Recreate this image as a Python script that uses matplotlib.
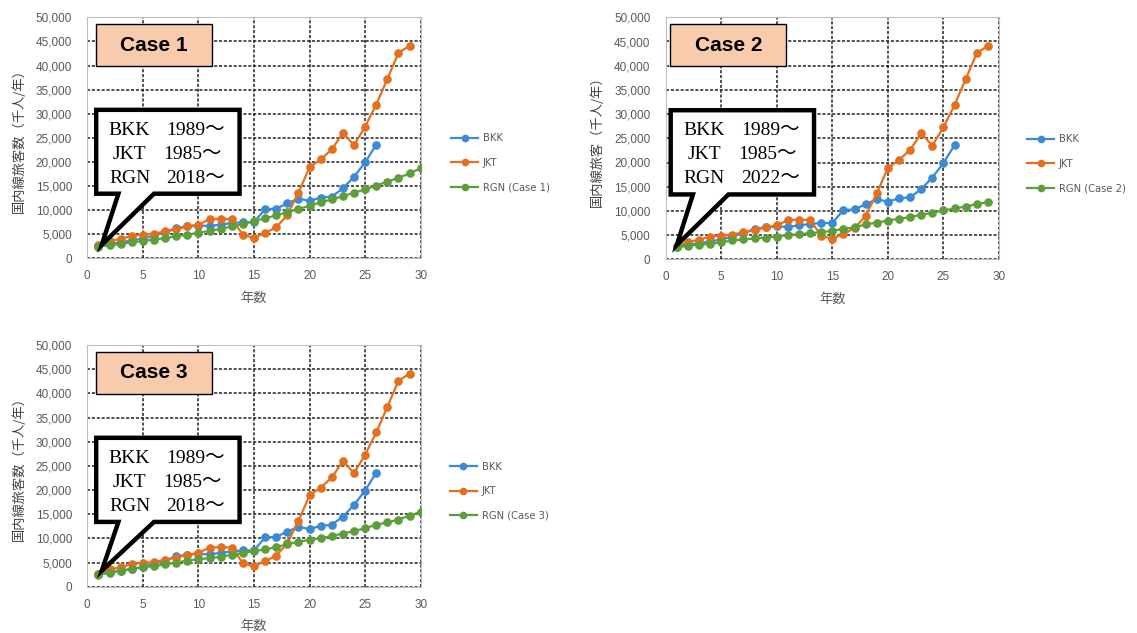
import matplotlib
matplotlib.use("Agg")
import matplotlib.pyplot as plt
from matplotlib.patches import Polygon, Rectangle
from matplotlib.ticker import FuncFormatter, MultipleLocator

# Domestic passengers (thousand persons / year) by elapsed year
bkk = [2600, 3000, 3300, 3700, 4100, 4700, 5400, 6300, 6600, 6800, 6700, 7000, 7300,
       7500, 7500, 10200, 10300, 11400, 12400, 11900, 12600, 12800, 14500, 16900,
       19900, 23600]
jkt = [2700, 3600, 4000, 4700, 4900, 5100, 5600, 6000, 6600, 7000, 8100, 8200, 8100,
       4900, 4200, 5300, 6400, 9000, 13600, 18900, 20500, 22600, 26000, 23500, 27300,
       31900, 37200, 42600, 44100]
rgn_case1 = [2400, 2700, 3000, 3300, 3600, 3900, 4200, 4600, 4900, 5300, 5700, 6100,
             6600, 7100, 7700, 8300, 8900, 9600, 10200, 10900, 11600, 12200, 12900,
             13600, 14300, 15100, 15900, 16700, 17600, 18700]
rgn_case2 = [2500, 2800, 3000, 3200, 3500, 3900, 4100, 4300, 4500, 4700, 5000, 5200,
             5400, 5600, 5900, 6300, 6600, 7200, 7600, 8000, 8400, 8700, 9200, 9600,
             10100, 10500, 10900, 11400, 11800]
rgn_case3 = [2400, 2900, 3300, 3600, 4000, 4300, 4600, 5000, 5400, 5700, 5900, 6200,
             6600, 7000, 7400, 7700, 8200, 8800, 9300, 9700, 10000, 10500, 11000, 11500,
             12100, 12800, 13300, 13900, 14700, 15500]

case_titles = ["Case 1", "Case 2", "Case 3"]
rgn_labels = ["RGN (Case 1)", "RGN (Case 2)", "RGN (Case 3)"]
rgn_series = [rgn_case1, rgn_case2, rgn_case3]
start_years = [("BKK", "1989～"), ("JKT", "1985～")]
rgn_start = ["2018～", "2022～", "2018～"]
ylabels = ["国内線旅客数（千人/年）", "国内線旅客（千人/年）", "国内線旅客数（千人/年）"]
xlabel = "年数"

C_BKK = "#3A8AD6"
C_JKT = "#E4701E"
C_RGN = "#5E9E3A"
GRAY = "#595959"

W, H = 1137, 633
fig = plt.figure(figsize=(W / 100, H / 100), dpi=100)
fig.patch.set_facecolor("white")

# axes rectangles in pixels: left, top, right, bottom
panels = [(87.3, 17.3, 420.7, 258.3), (665.7, 17.3, 999.0, 259.3), (87.3, 345.0, 420.7, 586.7)]
legend_pos = [(451, 162.5), (1027, 163.5), (450, 491)]
# horizontal shift of the annotation boxes (data units) and bubble tip per panel
box_dx = [0.0, -0.35, 0.0]
tips = [(1.3, 2800), (1.0, 2950), (1.3, 3300)]

jp = ["Noto Sans CJK JP", "DejaVu Sans"]
serif = ["Liberation Serif", "Noto Sans CJK JP"]

for i, (l, t, r, b) in enumerate(panels):
    ax = fig.add_axes([l / W, 1 - b / H, (r - l) / W, (b - t) / H])
    x_b = list(range(1, len(bkk) + 1))
    x_j = list(range(1, len(jkt) + 1))
    x_r = list(range(1, len(rgn_series[i]) + 1))
    ms, lw = 5.2, 1.6
    h1, = ax.plot(x_b, bkk, color=C_BKK, marker="o", ms=ms, lw=lw, label="BKK", zorder=3)
    h2, = ax.plot(x_j, jkt, color=C_JKT, marker="o", ms=ms, lw=lw, label="JKT", zorder=4)
    h3, = ax.plot(x_r, rgn_series[i], color=C_RGN, marker="o", ms=ms, lw=lw,
                  label=rgn_labels[i], zorder=5)

    ax.set_xlim(0, 30)
    ax.set_ylim(0, 50000)
    ax.xaxis.set_major_locator(MultipleLocator(5))
    ax.yaxis.set_major_locator(MultipleLocator(5000))
    ax.yaxis.set_major_formatter(FuncFormatter(lambda v, p: f"{int(v):,}"))
    ax.grid(True, color="#222222", linestyle=(0, (2.0, 1.2)), linewidth=1.1, zorder=1)
    ax.set_axisbelow(True)
    for s in ax.spines.values():
        s.set_color("#BFBFBF")
        s.set_linewidth(0.8)
    ax.tick_params(axis="x", length=0, labelsize=8.5, labelcolor=GRAY, pad=8.5)
    ax.tick_params(axis="y", length=0, labelsize=8.5, labelcolor=GRAY, pad=11)
    for lab in ax.get_xticklabels() + ax.get_yticklabels():
        lab.set_fontfamily("Liberation Sans")
    ax.set_ylabel(ylabels[i], fontsize=9.5, color="#404040", family=jp, labelpad=7)
    ax.set_xlabel(xlabel, fontsize=9.5, color=GRAY, family=jp, labelpad=7)

    dx = box_dx[i]
    # Case label box
    x0 = (0.78 + dx) / 30
    ax.add_patch(Rectangle((x0, 0.798), 0.3475, 0.174, transform=ax.transAxes,
                           facecolor="#F8CBAD", edgecolor="black", lw=1.0,
                           clip_on=False, zorder=8))
    ax.text(x0 + 0.3475 / 2, 0.885, case_titles[i], transform=ax.transAxes,
            ha="center", va="center", fontsize=15, fontweight="bold",
            family="Liberation Sans", zorder=9)

    # Speech-bubble callout with start years
    bl, br, bt, bb = 0.8 + dx, 13.7 + dx, 30800, 13400
    tail_a, tail_b = 2.8 + dx, 6.0 + dx
    verts = [(bl, bt), (br, bt), (br, bb), (tail_b, bb), tips[i], (tail_a, bb), (bl, bb)]
    ax.add_patch(Polygon(verts, closed=True, facecolor="white", edgecolor="black",
                         lw=3.2, joinstyle="miter", clip_on=False, zorder=10))
    rows = start_years + [("RGN", rgn_start[i])]
    ys = [26600, 21600, 16600]
    code_x = [3.8, 3.8, 3.8]
    year_x = [9.75, 9.5, 9.75]
    for (code, yr), yy, cx, yx in zip(rows, ys, code_x, year_x):
        ax.text(cx + dx, yy, code, ha="center", va="center", fontsize=14,
                family=serif, zorder=11)
        ax.text(yx + dx, yy, yr, ha="center", va="center", fontsize=14,
                family=serif, zorder=11)

    lx, ly = legend_pos[i]
    leg = ax.legend(handles=[h1, h2, h3], loc="center left",
                    bbox_to_anchor=(lx / W, 1 - ly / H), bbox_transform=fig.transFigure,
                    frameon=False, fontsize=7.2, handlelength=2.7, handletextpad=0.5,
                    labelspacing=1.45, borderpad=0, borderaxespad=0)
    for txt in leg.get_texts():
        txt.set_color(GRAY)
    for hl in leg.legend_handles:
        hl.set_markersize(4.5)

fig.savefig("out.png", dpi=100, facecolor="white")
